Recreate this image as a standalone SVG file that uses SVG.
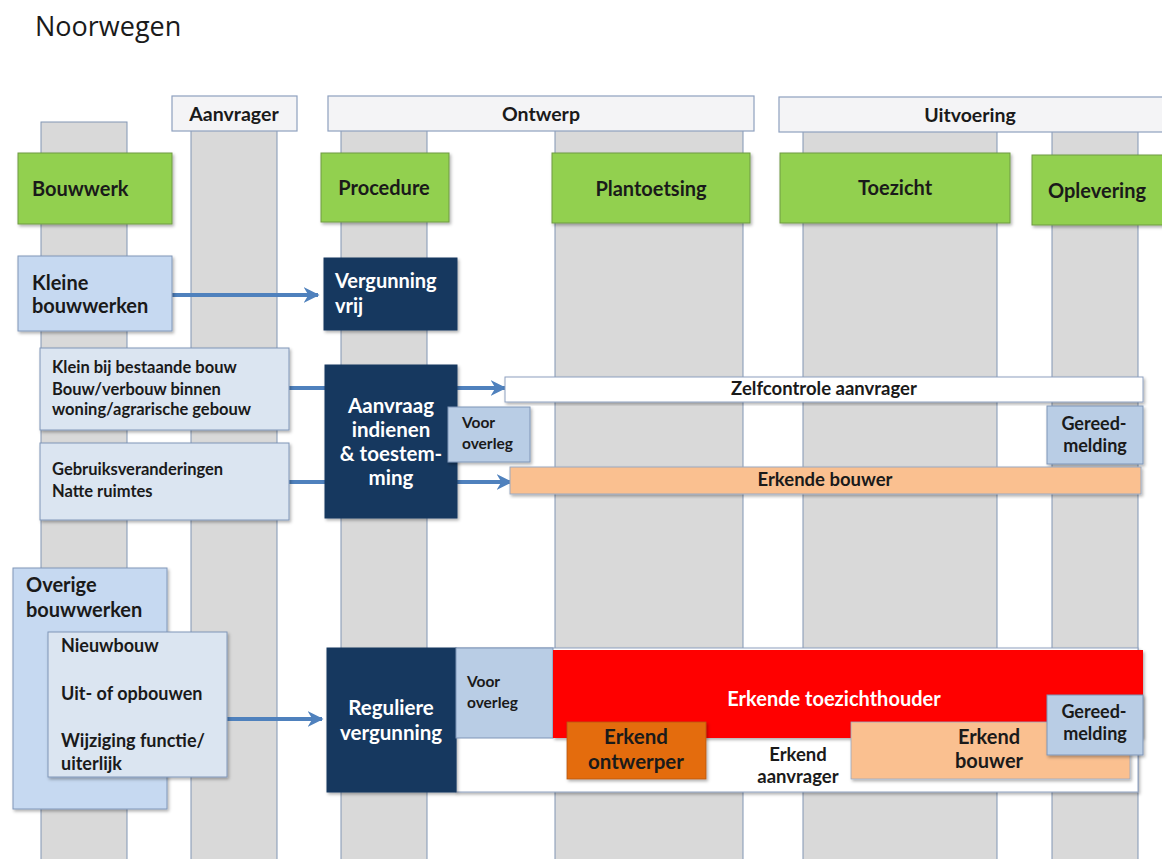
<svg xmlns="http://www.w3.org/2000/svg" width="1162" height="859" viewBox="0 0 1162 859">
<defs>
<filter id="sh" x="-5%" y="-5%" width="115%" height="120%"><feDropShadow dx="1.5" dy="2" stdDeviation="1.5" flood-color="#000" flood-opacity="0.3"/></filter>
<marker id="ah" viewBox="0 0 10 10" refX="9" refY="5" markerWidth="4" markerHeight="4" orient="auto" markerUnits="strokeWidth"><path d="M0,0 L10,5 L0,10 L3,5 Z" fill="#4f81bd"/></marker>
</defs>
<style>
.col{fill:#d9d9d9;stroke:#8196b4;stroke-width:1}
.hdr{fill:#f4f4f6;stroke:#8ea0bf;stroke-width:1.2}
.grn{fill:#92d050;stroke:#6e9a42;stroke-width:1}
.lb{fill:#c6d9f1;stroke:#8096b8;stroke-width:1}
.lb2{fill:#dbe5f1;stroke:#8096b8;stroke-width:1}
.lb3{fill:#b9cde5;stroke:#7f95b7;stroke-width:1}
.nav{fill:#17375e;stroke:#1b3a60;stroke-width:1}
.t{font-family:Lato,"Open Sans","Liberation Sans",sans-serif;font-weight:bold;fill:#1a1a1a}
.w{fill:#fff}
.c{text-anchor:middle}
.arr{stroke:#4f81bd;stroke-width:4;fill:none}
</style>
<rect width="1162" height="859" fill="#fff"/>
<text x="35" y="36" font-family="'Open Sans',Lato,'Liberation Sans',sans-serif" font-size="27" fill="#1a1a1a">Noorwegen</text>

<g id="columns">
<rect class="col" x="41" y="122" width="86" height="745"/>
<rect class="col" x="191" y="128" width="86" height="740"/>
<rect class="col" x="341" y="128" width="86" height="740"/>
<rect class="col" x="555" y="128" width="188" height="740"/>
<rect class="col" x="803" y="128" width="194" height="740"/>
<rect class="col" x="1052" y="128" width="86" height="740"/>
</g>

<g id="headers">
<rect class="hdr" x="172" y="96" width="125" height="35"/>
<text class="t c" x="234" y="121" font-size="19.5">Aanvrager</text>
<rect class="hdr" x="328" y="96" width="426" height="35"/>
<text class="t c" x="541" y="121" font-size="19.5">Ontwerp</text>
<rect class="hdr" x="779" y="97" width="390" height="35"/>
<text class="t c" x="970" y="122" font-size="19.5">Uitvoering</text>
</g>

<g id="phases">
<rect class="grn" x="18" y="153" width="154" height="71" filter="url(#sh)"/>
<text class="t" x="32" y="196" font-size="20">Bouwwerk</text>
<rect class="grn" x="321" y="153" width="128" height="69" filter="url(#sh)"/>
<text class="t c" x="384" y="195" font-size="20">Procedure</text>
<rect class="grn" x="552" y="153" width="198" height="70" filter="url(#sh)"/>
<text class="t c" x="651" y="196" font-size="20">Plantoetsing</text>
<rect class="grn" x="780" y="153" width="230" height="70" filter="url(#sh)"/>
<text class="t c" x="895" y="195" font-size="20">Toezicht</text>
<rect class="grn" x="1032" y="155" width="135" height="70" filter="url(#sh)"/>
<text class="t c" x="1097" y="198" font-size="20">Oplevering</text>
</g>

<g id="connectors">
<line class="arr" x1="172" y1="295" x2="318" y2="295" marker-end="url(#ah)"/>
<line class="arr" x1="289" y1="388" x2="505" y2="388" marker-end="url(#ah)"/>
<line class="arr" x1="289" y1="482" x2="511" y2="482" marker-end="url(#ah)"/>
<line class="arr" x1="227" y1="719" x2="322" y2="719" marker-end="url(#ah)"/>
</g>

<g id="kleine">
<rect class="lb" x="18" y="256" width="154" height="75" filter="url(#sh)"/>
<text class="t" x="32" y="290" font-size="20">Kleine</text>
<text class="t" x="32" y="313" font-size="20">bouwwerken</text>
</g>

<g id="vergunningvrij">
<rect class="nav" x="324" y="258" width="133" height="72" filter="url(#sh)"/>
<text class="t w" x="335" y="288" font-size="20">Vergunning</text>
<text class="t w" x="335" y="313" font-size="20">vrij</text>
</g>

<g id="kleinbij">
<rect class="lb2" x="40" y="348" width="249" height="82" filter="url(#sh)"/>
<text class="t" x="52" y="373" font-size="16.5">Klein bij bestaande bouw</text>
<text class="t" x="52" y="395" font-size="16.5">Bouw/verbouw binnen</text>
<text class="t" x="52" y="415" font-size="16.5">woning/agrarische  gebouw</text>
</g>

<g id="gebruiks">
<rect class="lb2" x="40" y="443" width="249" height="77" filter="url(#sh)"/>
<text class="t" x="52" y="475" font-size="16.5">Gebruiksveranderingen</text>
<text class="t" x="52" y="497" font-size="16.5">Natte ruimtes</text>
</g>

<g id="aanvraag">
<rect class="nav" x="325" y="365" width="132" height="153" filter="url(#sh)"/>
<text class="t w c" x="391" y="413" font-size="20.5">Aanvraag</text>
<text class="t w c" x="391" y="437" font-size="20.5">indienen</text>
<text class="t w c" x="391" y="461" font-size="20.5">&amp; toestem-</text>
<text class="t w c" x="391" y="485" font-size="20.5">ming</text>
</g>

<g id="zelfcontrole">
<rect x="505" y="377" width="638" height="25" fill="#fff" stroke="#8ea0bf" stroke-width="1" filter="url(#sh)"/>
<text class="t c" x="824" y="395" font-size="18.5">Zelfcontrole aanvrager</text>
</g>

<g id="vooroverleg1">
<rect class="lb3" x="448" y="407" width="82" height="55" filter="url(#sh)"/>
<text class="t" x="462" y="428" font-size="15.5">Voor</text>
<text class="t" x="462" y="449" font-size="15.5">overleg</text>
</g>

<g id="gereed1">
<rect class="lb3" x="1047" y="406" width="96" height="58" filter="url(#sh)"/>
<text class="t c" x="1094" y="430" font-size="18">Gereed-</text>
<text class="t c" x="1095" y="452" font-size="18">melding</text>
</g>

<g id="erkendebouwer">
<rect x="510" y="467" width="631" height="27" fill="#fac090" stroke="#9aa8c0" stroke-width="1" filter="url(#sh)"/>
<text class="t c" x="825" y="486" font-size="18.5">Erkende bouwer</text>
</g>

<g id="overige">
<rect class="lb" x="13" y="568" width="154" height="241" filter="url(#sh)"/>
<text class="t" x="26" y="592" font-size="20">Overige</text>
<text class="t" x="26" y="617" font-size="20">bouwwerken</text>
</g>

<g id="nieuwbouw">
<rect class="lb2" x="48" y="632" width="179" height="145" filter="url(#sh)"/>
<text class="t" x="61" y="652" font-size="18">Nieuwbouw</text>
<text class="t" x="61" y="700" font-size="18">Uit- of opbouwen</text>
<text class="t" x="61" y="747" font-size="18">Wijziging functie/</text>
<text class="t" x="61" y="770" font-size="18">uiterlijk</text>
</g>

<g id="aanvragerframe">
<rect x="456" y="648" width="682" height="144" fill="#fff" stroke="#8ea0bf" stroke-width="1" filter="url(#sh)"/>
</g>

<g id="reguliere">
<rect class="nav" x="327" y="648" width="129" height="144" filter="url(#sh)"/>
<text class="t w c" x="391" y="715" font-size="20.5">Reguliere</text>
<text class="t w c" x="391" y="740" font-size="20.5">vergunning</text>
</g>

<g id="vooroverleg2">
<rect class="lb3" x="456" y="648" width="97" height="90"/>
<text class="t" x="467" y="687" font-size="15.5">Voor</text>
<text class="t" x="467" y="708" font-size="15.5">overleg</text>
</g>

<g id="toezichthouder">
<rect x="553" y="650" width="590" height="88" fill="#ff0000" filter="url(#sh)"/>
<text class="t w c" x="834" y="706" font-size="20">Erkende toezichthouder</text>
</g>

<g id="ontwerper">
<rect x="567" y="722" width="139" height="57" fill="#e46c0a" stroke="#b45a12" stroke-width="0.8" filter="url(#sh)"/>
<text class="t c" x="636" y="744" font-size="20.5">Erkend</text>
<text class="t c" x="636" y="769" font-size="20.5">ontwerper</text>
</g>

<g id="aanvrager">
<text class="t c" x="798" y="761" font-size="18.5">Erkend</text>
<text class="t c" x="798" y="783" font-size="18.5">aanvrager</text>
</g>

<g id="bouwer">
<rect x="851" y="722" width="279" height="57" fill="#fac090" stroke="#9aa8c0" stroke-width="0.8" filter="url(#sh)"/>
<text class="t c" x="989" y="744" font-size="20">Erkend</text>
<text class="t c" x="989" y="768" font-size="20">bouwer</text>
</g>

<g id="gereed2">
<rect class="lb3" x="1047" y="695" width="96" height="60" filter="url(#sh)"/>
<text class="t c" x="1094" y="718" font-size="18">Gereed-</text>
<text class="t c" x="1095" y="740" font-size="18">melding</text>
</g>
</svg>
